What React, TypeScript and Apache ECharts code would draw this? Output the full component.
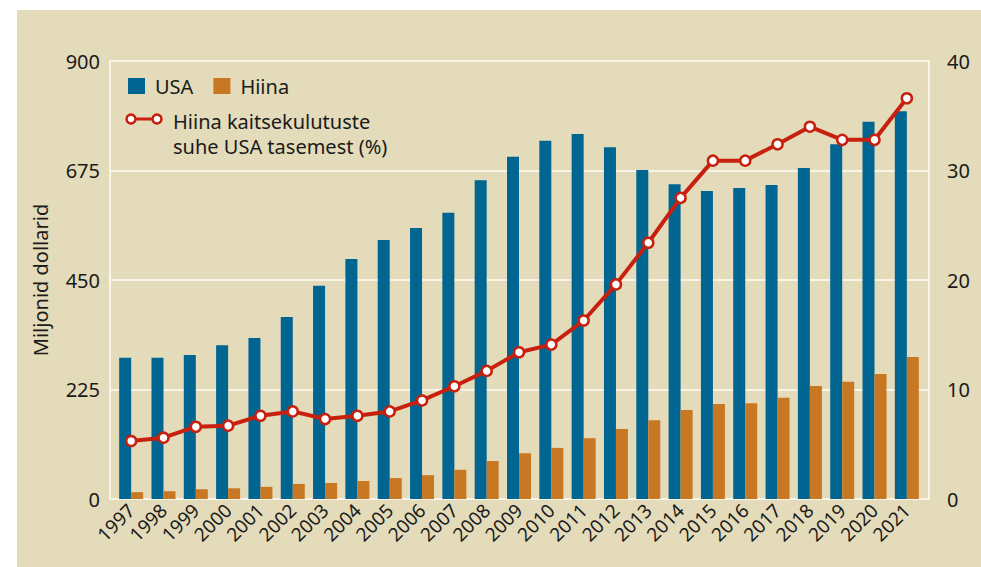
import React, { useEffect, useRef } from "react";
import * as echarts from "echarts";

const years = ["1997","1998","1999","2000","2001","2002","2003","2004","2005","2006","2007","2008","2009","2010","2011","2012","2013","2014","2015","2016","2017","2018","2019","2020","2021"];
const usa = [290,290,296,316,331,374,438,493,532,557,588,655,703,736,750,723,676,647,633,639,645,680,729,775,797];
const china = [14,16,20,22,25,31,33,37,43,49,60,78,94,105,125,144,162,183,195,197,208,232,241,257,292];
const ratio = [5.3,5.6,6.6,6.7,7.6,8.0,7.3,7.6,8.0,9.0,10.3,11.7,13.4,14.1,16.3,19.6,23.4,27.5,30.9,30.9,32.4,34.0,32.8,32.8,36.6];
const leftTicks = { min: 0, max: 900, interval: 225 };
const rightTicks = { min: 0, max: 40, interval: 10 };

const BLUE = "#006591";
const ORANGE = "#c87823";
const RED = "#c8200f";
const GRID = "#f8f4e6";
const TEXT = "#1a1a1a";
const FONT = "Noto Sans";
const LINE_NAME = "Hiina kaitsekulutuste suhe USA tasemest (%)";

export default function App() {
  const ref = useRef<HTMLDivElement>(null);
  useEffect(() => {
    if (!ref.current) return;
    const chart = echarts.init(ref.current, undefined, { renderer: "svg" });
    chart.setOption({
      animation: false,
      textStyle: { fontFamily: FONT },
      grid: [
        { left: 110, right: 52, top: 61, bottom: 68, show: true, borderColor: GRID, borderWidth: 2, backgroundColor: "transparent" },
        { left: 115, right: 58, top: 61, bottom: 68 },
      ],
      legend: [
        {
          data: ["USA", "Hiina"],
          left: 128,
          top: 76,
          padding: 0,
          icon: "rect",
          itemWidth: 17,
          itemHeight: 16,
          itemGap: 20,
          textStyle: { fontSize: 20, color: TEXT, fontFamily: FONT, padding: [0, 0, 0, 5] },
        },
      ],
      xAxis: [
        { type: "value", gridIndex: 0, min: 0, max: 1, show: false },
        {
          type: "category",
          gridIndex: 1,
          data: years,
          axisLine: { show: false },
          axisTick: { show: false },
          axisLabel: { rotate: 45, fontSize: 19, color: TEXT, fontFamily: FONT, margin: 8, interval: 0 },
        },
      ],
      yAxis: [
        {
          type: "value",
          gridIndex: 0,
          ...leftTicks,
          name: "Miljonid dollarid",
          nameLocation: "middle",
          nameGap: 60,
          nameTextStyle: { fontSize: 20, color: TEXT, fontFamily: FONT },
          axisLine: { show: false },
          axisTick: { show: false },
          axisLabel: { fontSize: 20, color: TEXT, fontFamily: FONT, margin: 10 },
          splitLine: { lineStyle: { color: GRID, width: 2 } },
        },
        {
          type: "value",
          gridIndex: 0,
          position: "right",
          ...rightTicks,
          axisLine: { show: false },
          axisTick: { show: false },
          axisLabel: { fontSize: 20, color: TEXT, fontFamily: FONT, margin: 18 },
          splitLine: { show: false },
        },
        { type: "value", gridIndex: 1, ...leftTicks, show: false },
        { type: "value", gridIndex: 1, ...rightTicks, show: false },
      ],
      series: [
        { name: "USA", type: "bar", xAxisIndex: 1, yAxisIndex: 2, data: usa, barWidth: 12, barGap: "0%", itemStyle: { color: BLUE } },
        { name: "Hiina", type: "bar", xAxisIndex: 1, yAxisIndex: 2, data: china, barWidth: 12, barGap: "0%", itemStyle: { color: ORANGE } },
        {
          name: LINE_NAME,
          type: "line",
          xAxisIndex: 1,
          yAxisIndex: 3,
          data: ratio,
          z: 5,
          symbol: "circle",
          symbolSize: 10,
          showAllSymbol: true,
          lineStyle: { color: RED, width: 4 },
          itemStyle: { color: "#ffffff", borderColor: RED, borderWidth: 2.5 },
        },
      ],
      graphic: [
        { type: "line", shape: { x1: 126, y1: 119, x2: 162, y2: 119 }, style: { stroke: RED, lineWidth: 3 } },
        { type: "circle", shape: { cx: 131, cy: 119, r: 4.5 }, style: { fill: "#fff", stroke: RED, lineWidth: 2.5 } },
        { type: "circle", shape: { cx: 157, cy: 119, r: 4.5 }, style: { fill: "#fff", stroke: RED, lineWidth: 2.5 } },
        {
          type: "text",
          x: 173,
          y: 109,
          style: {
            text: "Hiina kaitsekulutuste\nsuhe USA tasemest (%)",
            fontSize: 20,
            lineHeight: 25,
            fontFamily: FONT,
            fill: TEXT,
            verticalAlign: "top",
          },
        },
      ],
    });
    return () => chart.dispose();
  }, []);
  return (
    <div style={{ position: "fixed", left: 0, top: 0, width: 981, height: 567, background: "#ffffff" }}>
      <div style={{ position: "absolute", left: 17, top: 10, width: 964, height: 557, background: "#e3dbb9" }} />
      <div ref={ref} style={{ position: "absolute", left: 0, top: 0, width: 981, height: 567 }} />
    </div>
  );
}
